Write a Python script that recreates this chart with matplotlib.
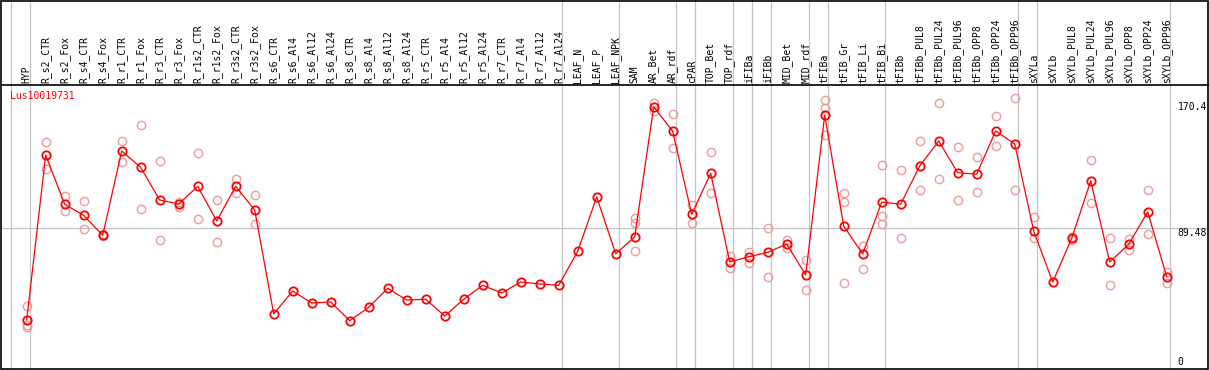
import numpy as np
import matplotlib as mpl
mpl.use('Agg')
import matplotlib.pyplot as plt
from matplotlib.patches import Rectangle

nan = np.nan

gene = 'Lus10019731'

samples = ['HYP', 'R_s2_CTR', 'R_s2_Fox', 'R_s4_CTR', 'R_s4_Fox', 'R_r1_CTR', 'R_r1_Fox',
           'R_r3_CTR', 'R_r3_Fox', 'R_r1s2_CTR', 'R_r1s2_Fox', 'R_r3s2_CTR', 'R_r3s2_Fox',
           'R_s6_CTR', 'R_s6_Al4', 'R_s6_Al12', 'R_s6_Al24', 'R_s8_CTR', 'R_s8_Al4',
           'R_s8_Al12', 'R_s8_Al24', 'R_r5_CTR', 'R_r5_Al4', 'R_r5_Al12', 'R_r5_Al24',
           'R_r7_CTR', 'R_r7_Al4', 'R_r7_Al12', 'R_r7_Al24', 'LEAF_N', 'LEAF_P', 'LEAF_NPK',
           'SAM', 'AR_Bet', 'AR_rdf', 'cPAR', 'TOP_Bet', 'TOP_rdf', 'iFIBa', 'iFIBb',
           'MID_Bet', 'MID_rdf', 'tFIBa', 'tFIB_Gr', 'tFIB_Li', 'tFIB_Bi', 'tFIBb',
           'tFIBb_PUL8', 'tFIBb_PUL24', 'tFIBb_PUL96', 'tFIBb_OPP8', 'tFIBb_OPP24',
           'tFIBb_OPP96', 'sXYLa', 'sXYLb', 'sXYLb_PUL8', 'sXYLb_PUL24', 'sXYLb_PUL96',
           'sXYLb_OPP8', 'sXYLb_OPP24', 'sXYLb_OPP96']

# mean expression per sample
mean_expr = [28.0, 138.2, 105.3, 97.9, 84.6, 140.9, 130.0, 108.2, 105.5, 117.3, 94.2, 117.3,
             101.5, 32.1, 47.4, 39.4, 40.1, 27.6, 36.5, 49.2, 41.4, 41.9, 30.7, 41.9, 51.2,
             46.1, 53.4, 52.1, 51.2, 73.9, 110.2, 72.3, 83.5, 170.4, 154.1, 98.6, 126.0,
             66.8, 70.3, 73.2, 78.8, 58.1, 164.9, 90.8, 72.1, 106.8, 105.4, 130.9, 147.6,
             126.4, 125.5, 154.3, 145.6, 87.5, 53.4, 82.6, 120.9, 66.8, 78.6, 100.2, 57.0]

# replicate values (nan = no replicate shown)
rep_a = [37.4, 146.7, 110.9, 107.5, 85.5, 147.6, 158.3, 134.2, 107.1, 139.3, 108.2, 122.2,
         111.3, nan, nan, nan, nan, nan, nan, nan, nan, nan, nan, nan, nan, nan, nan, nan,
         nan, nan, nan, nan, 96.0, 172.7, 165.6, 104.8, 140.0, 70.8, 73.7, 89.5, 81.7,
         68.1, 175.0, 112.6, 77.7, 131.6, 128.0, 147.6, 172.7, 143.4, 136.7, 164.1, 176.1,
         96.8, nan, 83.4, 134.9, 82.8, 82.3, 114.9, 60.3]
rep_b = [24.7, 128.9, 100.8, 88.6, 84.0, 133.6, 102.2, 81.5, 103.7, 95.5, 79.9, 112.6,
         92.2, nan, nan, nan, nan, nan, nan, nan, nan, nan, nan, nan, nan, nan, nan, nan,
         nan, nan, nan, nan, 92.6, 167.6, 142.7, 92.6, 112.6, 62.5, 66.3, 56.8, 76.3,
         48.1, 169.4, 106.8, 61.9, 97.5, 82.6, 114.9, 122.0, 108.2, 113.5, 144.2, 114.9,
         82.6, nan, 81.7, 106.2, 51.4, 74.6, 85.5, 52.5]
rep_c = [23.2] + [nan] * 31 + [73.9] + [nan] * 9 + [151.6, 52.8, nan, 91.9] + [nan] * 15

mid_line = 89.48
top_label = 170.4

# last sample index of each group (grey separators)
group_ends = [-1, 0, 28, 31, 34, 35, 37, 38, 39, 41, 42, 45, 52, 53, 60]

W, H = 1209, 370
fig = plt.figure(figsize=(W / 100, H / 100), dpi=100)

# plot area in pixels (from bottom) and the value scale
x0, x_step = 26.7, 19.0
y0, y_scale = 8.0, 1.4975
left, right, bottom, top = 1.5, 1208.0, 1.5, 285.0

ax = fig.add_axes([left / W, bottom / H, (right - left) / W, (top - bottom) / H])
ax.set_xlim((left - x0) / x_step, (right - x0) / x_step)
ax.set_ylim((bottom - y0) / y_scale, (top - y0) / y_scale)
for s in ['left', 'right', 'bottom']:
    ax.spines[s].set_visible(False)
ax.spines['top'].set_linewidth(1.2)
ax.set_xticks([])
ax.set_yticks([])

head_frac = 1 + 85 / (top - bottom)
grey = '#c4c4c4'
for g in group_ends:
    ax.axvline(g + 0.19, ymin=0, ymax=head_frac, color=grey, lw=0.9, clip_on=False, zorder=1)
ax.axhline(mid_line, color=grey, lw=0.9, zorder=1)

fig.add_artist(Rectangle((1.3 / W, 1.3 / H), (1208 - 1.3) / W, (369.5 - 1.3) / H,
                         transform=fig.transFigure, fill=False, ec='black', lw=1.2))

x = np.arange(len(samples))
pink = '#f09a9a'
for reps in (rep_a, rep_b, rep_c):
    ax.plot(x, reps, ls='none', marker='o', ms=6, mfc='none', mec=pink, mew=1.0, zorder=2)
ax.plot(x, mean_expr, color='red', lw=0.9, marker='o', ms=6, mfc='none', mec='red',
        mew=1.3, zorder=3)

mono = 'DejaVu Sans Mono'
for i, name in enumerate(samples):
    ax.annotate(name, xy=(i, 1), xycoords=ax.get_xaxis_transform(), xytext=(0, 1.2),
                textcoords='offset points', rotation=90, ha='center', va='bottom',
                fontsize=7, family=mono, annotation_clip=False)

ax.text(8.5 / (right - left), 0.962, gene, transform=ax.transAxes, color='red',
        fontsize=7, family=mono, ha='left', va='center')

lab_x = (1177.5 - left) / (right - left)
trans = mpl.transforms.blended_transform_factory(ax.transAxes, ax.transData)
ax.text(lab_x, top_label, '170.4', transform=trans, fontsize=7, family=mono, va='center')
ax.text(lab_x, mid_line - 0.3, '89.48', transform=trans, fontsize=7, family=mono, va='top')
ax.text(lab_x, 0, '0', transform=trans, fontsize=7, family=mono, va='center')

fig.savefig('out.png', dpi=100)
